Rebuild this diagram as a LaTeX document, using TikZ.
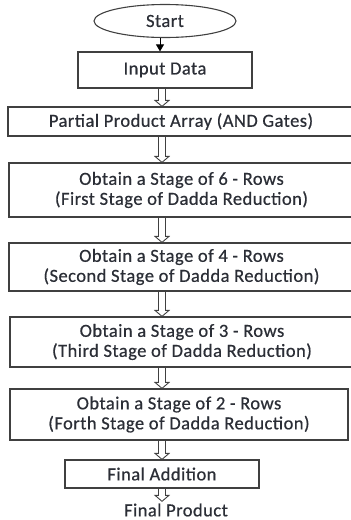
\documentclass[tikz,border=0pt]{standalone}
\usepackage{fontspec}
\setmainfont{Carlito}[LetterSpace=2.5,FakeBold=0.6]
\usetikzlibrary{shapes.geometric,arrows.meta,calc}
\definecolor{edge}{gray}{0.25}
\definecolor{ink}{HTML}{2B2E36}
\begin{document}
\begin{tikzpicture}[x=1pt,y=-1pt,
  every node/.style={font=\fontsize{18.5}{20}\selectfont, text=ink, align=center, inner sep=0pt},
  stagebox/.style={draw=edge, line width=1.2pt, rectangle},
  startshape/.style={draw=edge, line width=1.1pt, ellipse},
  hollow/.style={draw=edge, line width=0.9pt, line join=miter,
    to path={let \p1=(\tikztostart), \p2=(\tikztotarget) in
      (\x1-3.5pt,\y1) -- (\x1-3.5pt,\y2+6pt) -- (\x1-7pt,\y2+6pt) -- (\x1,\y2)
      -- (\x1+7pt,\y2+6pt) -- (\x1+3.5pt,\y2+6pt) -- (\x1+3.5pt,\y1)}},
  solidarrow/.style={draw=black, line width=1pt, -{Triangle[length=7pt,width=8pt]}}]
\useasboundingbox (0,0) rectangle (351,520);

% flow nodes
\node[startshape, minimum width=142pt, minimum height=33pt] (start) at (165,21) {Start};
\node[stagebox, minimum width=174pt, minimum height=36pt] (in) at (165,70) {Input Data};
\node[stagebox, minimum width=346pt, minimum height=29pt] (pp) at (181,121.5) {Partial Product Array (AND Gates)};
\node[stagebox, minimum width=345pt, minimum height=54pt] (s6) at (181.5,190) {Obtain a Stage of 6 - Rows\\(First Stage of Dadda Reduction)};
\node[stagebox, minimum width=345pt, minimum height=48pt] (s4) at (181.5,267) {Obtain a Stage of 4 - Rows\\(Second Stage of Dadda Reduction)};
\node[stagebox, minimum width=344pt, minimum height=50pt] (s3) at (182,342) {Obtain a Stage of 3 - Rows\\(Third Stage of Dadda Reduction)};
\node[stagebox, minimum width=338pt, minimum height=51pt] (s2) at (179,414.5) {Obtain a Stage of 2 - Rows\\(Forth Stage of Dadda Reduction)};
\node[stagebox, minimum width=194pt, minimum height=28pt] (fa) at (162,474) {Final Addition};
\node (fp) at (176,510) {Final Product};

% connector axis
\coordinate (ax) at (162,0);
\coordinate (as) at (160,0);

% connectors
\draw[solidarrow] (start.south -| as) -- (in.north -| as);
\draw[hollow] (in.south -| ax) to (pp.north -| ax);
\draw[hollow] (pp.south -| ax) to (s6.north -| ax);
\draw[hollow] (s6.south -| ax) to (s4.north -| ax);
\draw[hollow] (s4.south -| ax) to (s3.north -| ax);
\draw[hollow] (s3.south -| ax) to (s2.north -| ax);
\draw[hollow] (s2.south -| ax) to (fa.north -| ax);
\draw[hollow] (fa.south -| ax) to ([yshift=2pt]fp.north -| ax);
\end{tikzpicture}
\end{document}
